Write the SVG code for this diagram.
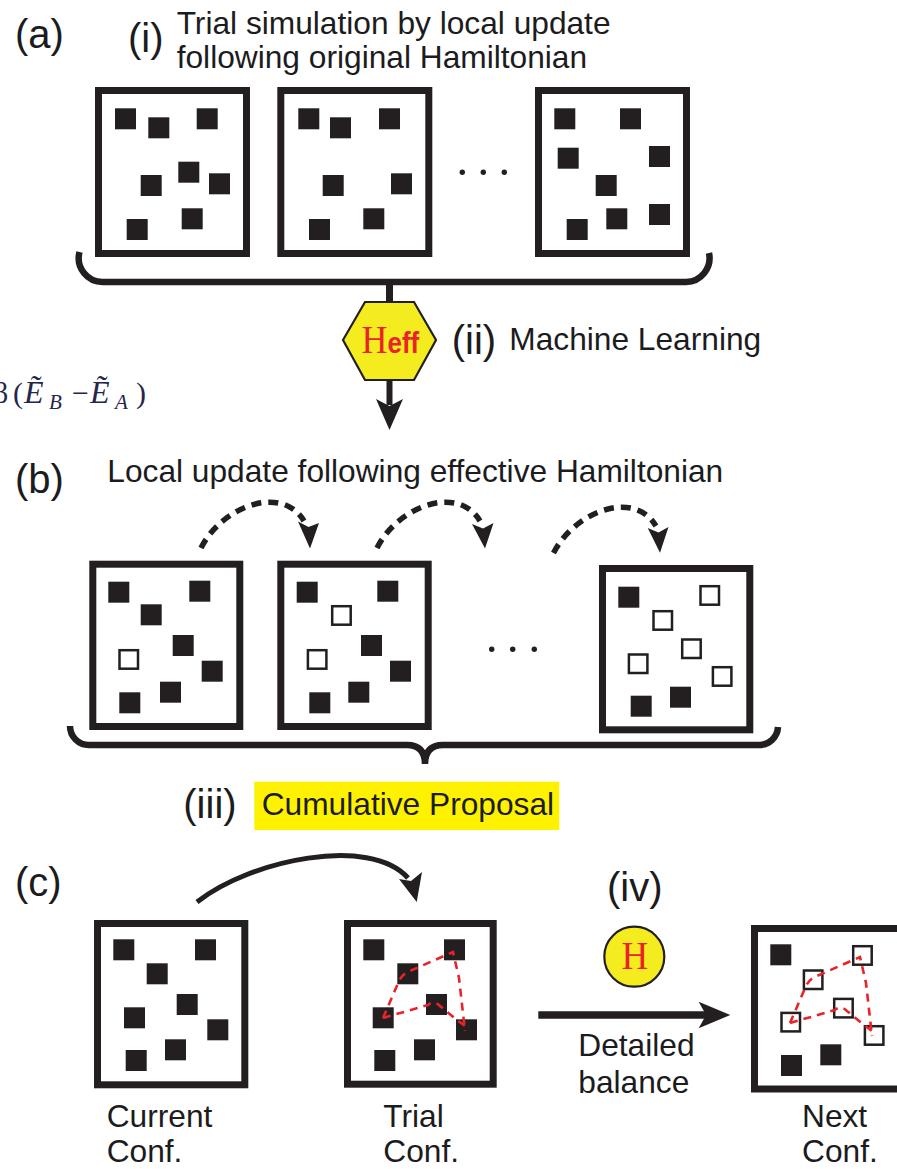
<svg xmlns="http://www.w3.org/2000/svg" xmlns:xlink="http://www.w3.org/1999/xlink" width="897" height="1169" viewBox="0 0 897 1169">
<style>
.box{fill:#fff;stroke:#231f20;stroke-width:7}
.f{fill:#231f20}
.o{fill:#fff;stroke:#231f20;stroke-width:2.5}
.t{font-family:"Liberation Sans",Arial,sans-serif;font-size:31.7px;fill:#1c1b1d}
.lb{font-family:"Liberation Sans",Arial,sans-serif;font-size:40px;fill:#1c1b1d}
.brace{fill:none;stroke:#231f20;stroke-width:6.5}
.solid{fill:none;stroke:#231f20;stroke-width:5}
.dash{fill:none;stroke:#231f20;stroke-width:5.5;stroke-dasharray:10 7}
.head{fill:#231f20}
.red{fill:none;stroke:#e8232a;stroke-width:2.6;stroke-dasharray:8 6}
.dot{fill:#231f20}
.math{font-family:"Liberation Serif","Times New Roman",serif;font-size:30px;fill:#26264d}
</style>
<defs>
<path id="redpath" d="M383,1018 L399,981 Q403,973 410,971 L453,952 L459,978 L465,1031 M383,1018 L428,1005 Q434,1000 440,1006 L446,1011 L457,1020 L465,1026"/>
</defs>

<!-- labels -->
<g id="labels">
<text class="lb" x="15" y="47.5">(a)</text>
<text class="lb" x="128" y="52">(i)</text>
<text class="t" x="176.7" y="34">Trial simulation by local update</text>
<text class="t" x="176.7" y="68">following original Hamiltonian</text>
<text class="lb" x="451.7" y="354">(ii)</text>
<text class="t" x="509.3" y="350">Machine Learning</text>
<text class="math" y="403"><tspan x="-7">β</tspan><tspan x="13">(</tspan><tspan x="24" font-style="italic" font-size="32">Ẽ</tspan><tspan x="49" y="409" font-size="21" font-style="italic">B</tspan><tspan x="72" y="403">−</tspan><tspan x="90" font-style="italic" font-size="32">Ẽ</tspan><tspan x="115" y="409" font-size="21" font-style="italic">A</tspan><tspan x="136" y="403">)</tspan></text>
<text class="lb" x="15" y="493">(b)</text>
<text class="t" x="107.3" y="481.7">Local update following effective Hamiltonian</text>
<text class="lb" x="183.3" y="818">(iii)</text>
<rect x="254.3" y="781.7" width="305" height="48.3" fill="#fff200"/>
<text class="t" x="261.7" y="815">Cumulative Proposal</text>
<text class="lb" x="15" y="896">(c)</text>
<text class="lb" x="607" y="901">(iv)</text>
<text class="t" x="106.7" y="1127">Current</text>
<text class="t" x="106.7" y="1162">Conf.</text>
<text class="t" x="383.3" y="1127">Trial</text>
<text class="t" x="383.3" y="1162">Conf.</text>
<text class="t" x="578.3" y="1056">Detailed</text>
<text class="t" x="578.3" y="1093">balance</text>
<text class="t" x="802" y="1127">Next</text>
<text class="t" x="802" y="1162">Conf.</text>
</g>

<!-- (a) boxes -->
<g id="a1">
<rect class="box" x="98.5" y="90.5" width="148" height="163"/>
<rect class="f" x="115" y="108.3" width="21" height="21"/>
<rect class="f" x="148.3" y="117.3" width="21" height="21"/>
<rect class="f" x="196.7" y="108.3" width="21" height="21"/>
<rect class="f" x="140.7" y="175" width="21" height="21"/>
<rect class="f" x="178.3" y="161.7" width="21" height="21"/>
<rect class="f" x="209" y="173.3" width="21" height="21"/>
<rect class="f" x="126.7" y="219" width="21" height="21"/>
<rect class="f" x="181.7" y="208.3" width="21" height="21"/>
</g>
<g id="a2">
<rect class="box" x="280.8" y="90.5" width="148" height="163"/>
<rect class="f" x="298.3" y="108.3" width="21" height="21"/>
<rect class="f" x="330" y="117.3" width="21" height="21"/>
<rect class="f" x="379" y="108.3" width="21" height="21"/>
<rect class="f" x="322.7" y="175" width="21" height="21"/>
<rect class="f" x="391" y="173.3" width="21" height="21"/>
<rect class="f" x="309" y="219" width="21" height="21"/>
<rect class="f" x="363.3" y="208.3" width="21" height="21"/>
</g>
<g id="a-dots">
<circle class="dot" cx="462.3" cy="172.3" r="2.7"/>
<circle class="dot" cx="483.3" cy="172.3" r="2.7"/>
<circle class="dot" cx="504.3" cy="172.3" r="2.7"/>
</g>
<g id="a3">
<rect class="box" x="538.5" y="90.5" width="148" height="163"/>
<rect class="f" x="554.3" y="108.3" width="21" height="21"/>
<rect class="f" x="620" y="108.3" width="21" height="21"/>
<rect class="f" x="557.7" y="147.7" width="21" height="21"/>
<rect class="f" x="649" y="146" width="21" height="21"/>
<rect class="f" x="595.7" y="175" width="21" height="21"/>
<rect class="f" x="566.7" y="219" width="21" height="21"/>
<rect class="f" x="606.3" y="208.3" width="21" height="21"/>
<rect class="f" x="649" y="204" width="21" height="21"/>
</g>

<!-- Heff hexagon -->
<g id="heff">
<polygon points="343,340 365,302 414,302 436,340 414,380 365,380" fill="#f5ec1f" stroke="#231f20" stroke-width="2.2"/>
<text transform="translate(361.5,353) scale(1,1.12)" font-family="'Liberation Serif','Times New Roman',serif" font-size="36" fill="#e8232a">H<tspan font-family="'Liberation Sans',Arial,sans-serif" font-weight="bold" font-size="26">eff</tspan></text>
</g>

<!-- (b) boxes -->
<g id="b1">
<rect class="box" x="92.8" y="564.2" width="147" height="162.3"/>
<rect class="f" x="108.3" y="581.7" width="21" height="21"/>
<rect class="f" x="189.3" y="580.7" width="21" height="21"/>
<rect class="f" x="140.7" y="604.3" width="21" height="21"/>
<rect class="f" x="172.7" y="635" width="21" height="21"/>
<rect class="o" x="119.5" y="650.2" width="18.5" height="18.5"/>
<rect class="f" x="201.7" y="660.7" width="21" height="21"/>
<rect class="f" x="160" y="681.7" width="21" height="21"/>
<rect class="f" x="119.3" y="692.3" width="21" height="21"/>
</g>
<g id="b2">
<rect class="box" x="280.8" y="564.2" width="147.4" height="162.3"/>
<rect class="f" x="296.7" y="581.7" width="21" height="21"/>
<rect class="f" x="377.3" y="580.7" width="21" height="21"/>
<rect class="o" x="332.2" y="606.2" width="18.5" height="18.5"/>
<rect class="f" x="361" y="635" width="21" height="21"/>
<rect class="o" x="307.9" y="650.2" width="18.5" height="18.5"/>
<rect class="f" x="390" y="660.7" width="21" height="21"/>
<rect class="f" x="348.3" y="681.7" width="21" height="21"/>
<rect class="f" x="309.3" y="692.3" width="21" height="21"/>
</g>
<g id="b-dots">
<circle class="dot" cx="491.7" cy="649.3" r="2.7"/>
<circle class="dot" cx="512.7" cy="649.3" r="2.7"/>
<circle class="dot" cx="534.3" cy="649.3" r="2.7"/>
</g>
<g id="b3">
<rect class="box" x="602.5" y="568.5" width="147.3" height="161.3"/>
<rect class="f" x="618.3" y="586.7" width="21" height="21"/>
<rect class="o" x="700.5" y="586.2" width="18.5" height="18.5"/>
<rect class="o" x="653.5" y="611.2" width="18.5" height="18.5"/>
<rect class="o" x="682.2" y="639.5" width="18.5" height="18.5"/>
<rect class="o" x="628.9" y="654.5" width="18.5" height="18.5"/>
<rect class="o" x="712.9" y="667.2" width="18.5" height="18.5"/>
<rect class="f" x="670" y="686.7" width="21" height="21"/>
<rect class="f" x="630.7" y="695.7" width="21" height="21"/>
</g>

<!-- (c) boxes -->
<g id="c1">
<rect class="box" x="97.5" y="923.5" width="147.3" height="161.3"/>
<rect class="f" x="113.3" y="939.3" width="21" height="21"/>
<rect class="f" x="195" y="939.3" width="21" height="21"/>
<rect class="f" x="146.7" y="963.3" width="21" height="21"/>
<rect class="f" x="176.7" y="994" width="21" height="21"/>
<rect class="f" x="124" y="1007.3" width="21" height="21"/>
<rect class="f" x="207.3" y="1019.3" width="21" height="21"/>
<rect class="f" x="165" y="1039.3" width="21" height="21"/>
<rect class="f" x="125.7" y="1050" width="21" height="21"/>
</g>
<g id="c2">
<rect class="box" x="347.5" y="923.5" width="145.7" height="160.7"/>
<rect class="f" x="363.3" y="939.3" width="21" height="21"/>
<rect class="f" x="444" y="939.3" width="21" height="21"/>
<rect class="f" x="397.3" y="963.3" width="21" height="21"/>
<rect class="f" x="426" y="994" width="21" height="21"/>
<rect class="f" x="372.7" y="1007.3" width="21" height="21"/>
<rect class="f" x="456" y="1019.3" width="21" height="21"/>
<rect class="f" x="414" y="1039.3" width="21" height="21"/>
<rect class="f" x="374.3" y="1050" width="21" height="21"/>
<use xlink:href="#redpath" href="#redpath" class="red"/>
</g>
<g id="h-circle">
<circle cx="634.3" cy="956.7" r="30" fill="#f5ec1f" stroke="#231f20" stroke-width="2.2"/>
<text transform="translate(621.5,968.5) scale(1,1.1)" font-family="'Liberation Serif','Times New Roman',serif" font-size="37" fill="#e8232a">H</text>
</g>
<g id="c3">
<rect class="box" x="754.5" y="928.5" width="148" height="160.5"/>
<rect class="f" x="770.3" y="944.3" width="21" height="21"/>
<rect class="o" x="853.2" y="946.2" width="18.5" height="18.5"/>
<rect class="o" x="803.9" y="970.5" width="18.5" height="18.5"/>
<rect class="o" x="834.2" y="998.9" width="18.5" height="18.5"/>
<rect class="o" x="781.5" y="1012.9" width="18.5" height="18.5"/>
<rect class="o" x="864.9" y="1026.2" width="18.5" height="18.5"/>
<rect class="f" x="820.3" y="1044.3" width="21" height="21"/>
<rect class="f" x="781" y="1055" width="21" height="21"/>
<use xlink:href="#redpath" href="#redpath" class="red" transform="translate(407,5)"/>
</g>

<!-- connectors -->
<g id="connectors">
<path class="brace" d="M79.5,252 A24,24 0 0 0 103.5,282 H686 A24,24 0 0 0 709,253"/>
<line x1="389.5" y1="282" x2="389.5" y2="302" stroke="#231f20" stroke-width="7"/>
<line x1="389.5" y1="380" x2="389.5" y2="405" stroke="#231f20" stroke-width="6"/>
<path class="head" d="M389.5,430 L376,399 L389.5,406 L403,399 Z"/>

<path class="dash" d="M201,548 C222,506 282,484 304,521"/>
<path class="head" d="M310,548.5 L298,521.5 L308.5,527 L319,523 Z"/>
<path class="dash" d="M377,548 C398,506 458,484 480,521"/>
<path class="head" d="M485,548.5 L472,524 L483,528.5 L493.5,523 Z"/>
<path class="dash" d="M553.5,553 C575,511 634,489 656,526"/>
<path class="head" d="M660,552.7 L647.7,528 L658.5,532.5 L668.5,527 Z"/>

<path class="brace" d="M70,726 A19,19 0 0 0 89,745 H407 Q425,745 425,764 Q425,745 443,745 H759 A19,19 0 0 0 778,727"/>

<path class="solid" d="M197,902 C250,860 370,835 408,878"/>
<path class="head" d="M416.7,902 L399,879 L411,881 L422,872 Z"/>

<line x1="538.3" y1="1015" x2="706" y2="1015" stroke="#231f20" stroke-width="7.5"/>
<path class="head" d="M730.3,1015 L698.7,1001.7 L706,1015 L698.7,1028.3 Z"/>
</g>
</svg>
